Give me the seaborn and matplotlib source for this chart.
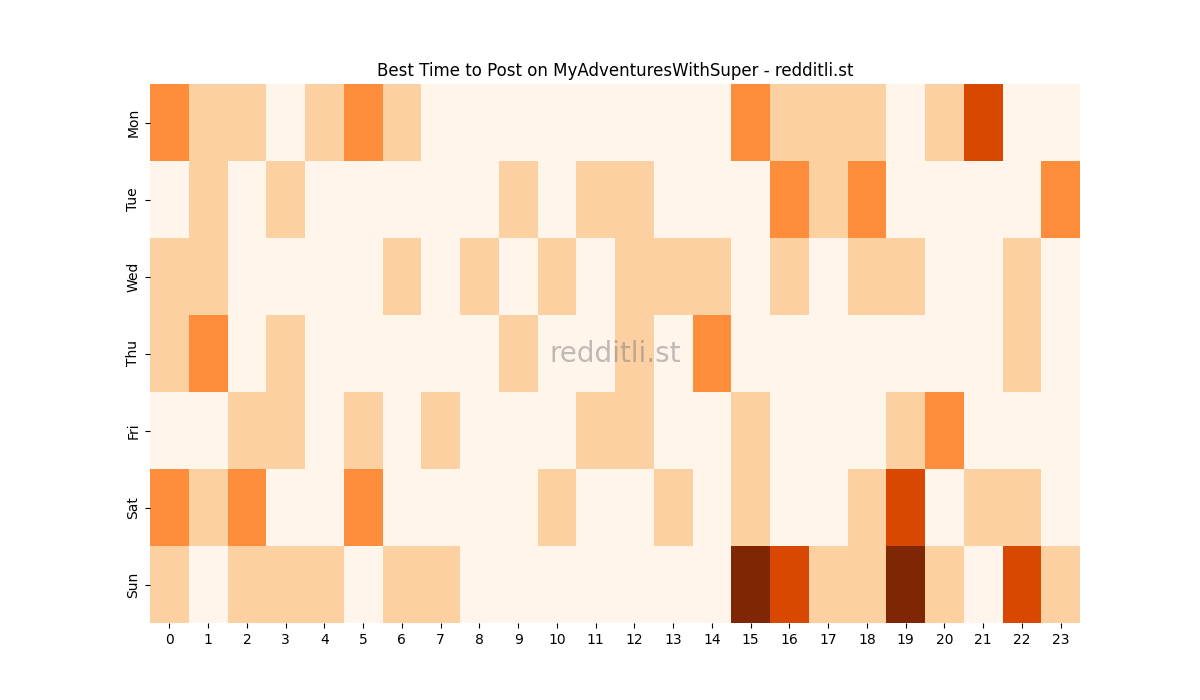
import matplotlib
matplotlib.use("Agg")
import matplotlib.pyplot as plt
import seaborn as sns
import numpy as np
import pandas as pd

days = ["Mon", "Tue", "Wed", "Thu", "Fri", "Sat", "Sun"]
hours = list(range(24))

mon = [2, 1, 1, 0, 1, 2, 1, 0, 0, 0, 0, 0, 0, 0, 0, 2, 1, 1, 1, 0, 1, 3, 0, 0]
tue = [0, 1, 0, 1, 0, 0, 0, 0, 0, 1, 0, 1, 1, 0, 0, 0, 2, 1, 2, 0, 0, 0, 0, 2]
wed = [1, 1, 0, 0, 0, 0, 1, 0, 1, 0, 1, 0, 1, 1, 1, 0, 1, 0, 1, 1, 0, 0, 1, 0]
thu = [1, 2, 0, 1, 0, 0, 0, 0, 0, 1, 0, 0, 1, 0, 2, 0, 0, 0, 0, 0, 0, 0, 1, 0]
fri = [0, 0, 1, 1, 0, 1, 0, 1, 0, 0, 0, 1, 1, 0, 0, 1, 0, 0, 0, 1, 2, 0, 0, 0]
sat = [2, 1, 2, 0, 0, 2, 0, 0, 0, 0, 1, 0, 0, 1, 0, 1, 0, 0, 1, 3, 0, 1, 1, 0]
sun = [1, 0, 1, 1, 1, 0, 1, 1, 0, 0, 0, 0, 0, 0, 0, 4, 3, 1, 1, 4, 1, 0, 3, 1]

df = pd.DataFrame([mon, tue, wed, thu, fri, sat, sun], index=days, columns=hours)

fig, ax = plt.subplots(figsize=(12, 7), dpi=100)
sns.heatmap(df, cmap="Oranges", cbar=False, ax=ax)
ax.set_title("Best Time to Post on MyAdventuresWithSuper - redditli.st")
ax.set_xlabel("")
ax.set_ylabel("")
ax.text(0.5, 0.5, "redditli.st", transform=ax.transAxes, ha="center", va="center",
        fontsize=20, color="gray", alpha=0.5)
fig.savefig("out.png", dpi=100)
